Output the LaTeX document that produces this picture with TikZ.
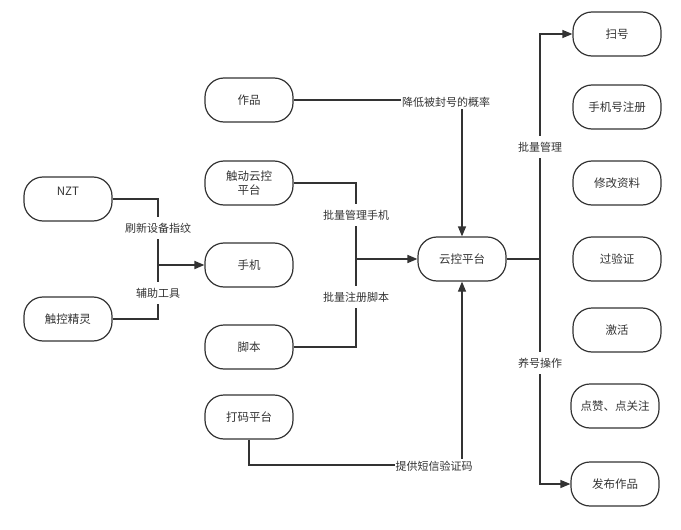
\documentclass[tikz,border=0pt]{standalone}
\usepackage{fontspec}
\setmainfont{Noto Sans CJK SC}
\usetikzlibrary{arrows.meta}
\definecolor{ln}{HTML}{333333}
\begin{document}
\begin{tikzpicture}[x=1pt,y=-1pt,
  box/.style={draw=ln, line width=1.2pt, rounded corners=19pt, minimum width=88pt, minimum height=44pt, align=center, font=\fontsize{11.5}{13.5}\selectfont, text=ln, inner sep=2pt},
  lbl/.style={fill=white, font=\fontsize{11}{13}\selectfont, inner xsep=1pt, inner ysep=2pt, text=ln},
  vlbl/.style={lbl, inner ysep=6pt},
  conn/.style={draw=ln, line width=1.2pt},
  arr/.style={conn, -{Triangle[length=10pt,width=8pt]}}]
\useasboundingbox (0,0) rectangle (681,530);
% left
\node[box] (nzt) at (68,199) {NZT\\[2pt]~};
\node[box] (jl) at (68,319) {触控精灵};
% middle
\node[box] (works) at (249,100) {作品};
\node[box] (cd) at (249,183) {触动云控\\平台};
\node[box] (phone) at (249,265) {手机};
\node[box] (script) at (249,347) {脚本};
\node[box] (dama) at (249,417) {打码平台};
\node[box] (yk) at (462,259) {云控平台};
% right
\node[box] (sh) at (617,34) {扫号};
\node[box] (reg) at (617,107) {手机号注册};
\node[box] (mod) at (617,183) {修改资料};
\node[box] (ver) at (617,259) {过验证};
\node[box] (act) at (617,330) {激活};
\node[box] (like) at (615,406) {点赞、点关注};
\node[box] (pub) at (615,484) {发布作品};
% junctions
\coordinate (j1) at (158,265);
\coordinate (j2) at (356,259);
\coordinate (c2) at (462,465);
\coordinate (r1) at (540,259);
% left connectors
\draw[conn] (nzt.east) -| (j1);
\draw[conn] (jl.east) -| (j1);
\draw[arr, line width=1.8pt] (j1) -- (phone.west);
\node[vlbl] at (158,228) {刷新设备指纹};
\node[vlbl] at (158,293) {辅助工具};
% middle connectors
\draw[conn] (cd.east) -| (j2);
\draw[conn] (script.east) -| (j2);
\draw[arr, line width=1.6pt] (j2) -- (yk.west);
\node[vlbl] at (356,215) {批量管理手机};
\node[vlbl] at (356,297) {批量注册脚本};
\draw[arr] (works.east) -| (yk.north);
\node[lbl] at (446,102) {降低被封号的概率};
\draw[arr] (dama.south) |- (c2) -- (yk.south);
\node[lbl] at (434,466) {提供短信验证码};
% right connectors
\draw[conn] (yk.east) -- (r1);
\draw[arr] (r1) |- (sh.west);
\draw[arr] (r1) |- (pub.west);
\node[vlbl] at (540,147) {批量管理};
\node[vlbl] at (540,363) {养号操作};
\end{tikzpicture}
\end{document}
